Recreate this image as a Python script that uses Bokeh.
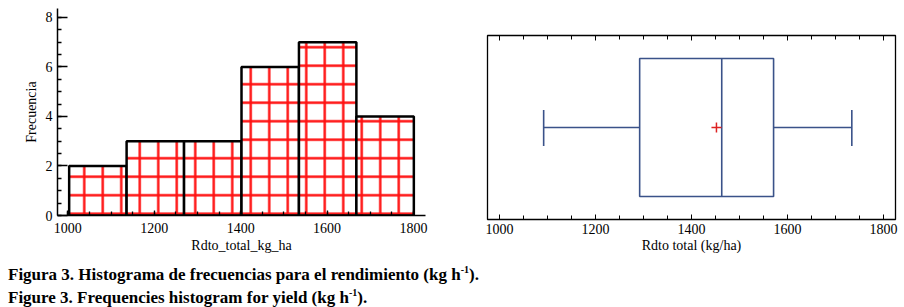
from bokeh.plotting import figure
from bokeh.layouts import column, row
from bokeh.models import Range1d, LinearAxis, SingleIntervalTicker, Div, ColumnDataSource
from bokeh.embed import file_html
from bokeh.resources import INLINE

# ---- data ----
bin_edges = [1003, 1136, 1269, 1402, 1535, 1668, 1801]
counts = [2, 3, 3, 6, 7, 4]

whisker_low = 1092
q1 = 1292
median = 1463
q3 = 1571
whisker_high = 1734
mean = 1452

FONT = "Liberation Serif"
BOX_COLOR = "#3a5289"

# ---- histogram ----
p1 = figure(output_backend="svg", toolbar_location=None,
            width=445, height=255,
            x_range=Range1d(976, 1828), y_range=Range1d(0, 8.36),
            min_border_left=57, min_border_right=20, min_border_top=8, min_border_bottom=38)
p1.outline_line_color = None
p1.xgrid.visible = False
p1.ygrid.visible = False

src = ColumnDataSource(dict(left=bin_edges[:-1], right=bin_edges[1:], top=counts,
                            bottom=[0] * len(counts)))
p1.quad(left="left", right="right", top="top", bottom="bottom", source=src,
        fill_color="white", line_color="black", line_width=2.5,
        hatch_pattern="+", hatch_color="#ff1010", hatch_scale=18.5, hatch_weight=2.4)

for ax in (p1.xaxis, p1.yaxis):
    ax.axis_line_color = "black"
    ax.axis_line_width = 1.5
    ax.major_tick_line_color = "black"
    ax.minor_tick_line_color = "black"
    ax.major_tick_line_width = 1.3
    ax.minor_tick_line_width = 1.3
    ax.major_tick_out = 0
    ax.minor_tick_out = 0
    ax.major_label_text_font = FONT
    ax.major_label_text_font_size = "14px"
    ax.major_label_text_color = "black"
    ax.axis_label_text_font = FONT
    ax.axis_label_text_font_size = "14px"
    ax.axis_label_text_font_style = "normal"
    ax.axis_label_text_color = "black"

p1.xaxis.ticker = SingleIntervalTicker(interval=200, num_minor_ticks=4)
p1.xaxis.major_tick_in = 5
p1.xaxis.minor_tick_in = 4
p1.xaxis.major_label_standoff = 7
p1.xaxis.axis_label = "Rdto_total_kg_ha"
p1.xaxis.axis_label_standoff = 2

p1.yaxis.ticker = SingleIntervalTicker(interval=2, num_minor_ticks=4)
p1.yaxis.major_tick_in = 10
p1.yaxis.minor_tick_in = 4
p1.yaxis.major_label_standoff = 5
p1.yaxis.axis_label = "Frecuencia"
p1.yaxis.axis_label_text_font_size = "14px"
p1.yaxis.axis_label_standoff = 4

# ---- box plot ----
p2 = figure(output_backend="svg", toolbar_location=None,
            width=453, height=255,
            x_range=Range1d(975, 1825), y_range=Range1d(0, 1),
            min_border_left=42, min_border_right=3, min_border_top=35, min_border_bottom=34)
p2.outline_line_color = "black"
p2.outline_line_width = 1.3
p2.xgrid.visible = False
p2.ygrid.visible = False
p2.yaxis.visible = False

p2.quad(left=[q1], right=[q3], bottom=[0.125], top=[0.875],
        fill_color=None, line_color=BOX_COLOR, line_width=1.6)
p2.segment(x0=[median], x1=[median], y0=[0.125], y1=[0.875], line_color=BOX_COLOR, line_width=1.6)
p2.segment(x0=[whisker_low, q3], x1=[q1, whisker_high], y0=[0.5, 0.5], y1=[0.5, 0.5],
           line_color=BOX_COLOR, line_width=1.6)
p2.segment(x0=[whisker_low, whisker_high], x1=[whisker_low, whisker_high],
           y0=[0.4, 0.4], y1=[0.595, 0.595], line_color=BOX_COLOR, line_width=1.6)
p2.scatter(x=[mean], y=[0.5], marker="cross", size=10, line_color="#dd2222", line_width=1.5)

ax2 = p2.xaxis[0]
ax2.ticker = SingleIntervalTicker(interval=200, num_minor_ticks=4)
ax2.axis_line_color = None
ax2.major_tick_line_color = "black"
ax2.minor_tick_line_color = "black"
ax2.major_tick_out = 0
ax2.minor_tick_out = 0
ax2.major_tick_in = 5
ax2.minor_tick_in = 4
ax2.major_label_standoff = 4
ax2.major_label_text_font = FONT
ax2.major_label_text_font_size = "14px"
ax2.major_label_text_color = "black"
ax2.axis_label = "Rdto total (kg/ha)"
ax2.axis_label_text_font = FONT
ax2.axis_label_text_font_size = "14px"
ax2.axis_label_text_font_style = "normal"
ax2.axis_label_text_color = "black"
ax2.axis_label_standoff = 1

top_axis = LinearAxis(ticker=SingleIntervalTicker(interval=200, num_minor_ticks=4))
top_axis.axis_line_color = None
top_axis.major_tick_out = 0
top_axis.minor_tick_out = 0
top_axis.major_tick_in = 5
top_axis.minor_tick_in = 4
top_axis.major_label_text_font_size = "1px"
top_axis.major_label_text_alpha = 0
top_axis.major_label_standoff = 0
p2.add_layout(top_axis, "above")

caption = Div(text=(
    "<div style=\"font-family:'Liberation Serif'; font-weight:bold; font-size:17px; "
    "line-height:23px; color:black; padding-top:3px; padding-left:3px; white-space:nowrap\">"
    "Figura 3. Histograma de frecuencias para el rendimiento (kg h<sup style='font-size:10px; line-height:0'>-1</sup>).<br>"
    "Figure 3. Frequencies histogram for yield (kg h<sup style='font-size:10px; line-height:0'>-1</sup>)."
    "</div>"), width=880)

layout = column(row(column(p1), column(p2)), caption)
open("out.html", "w").write(file_html(layout, INLINE))
